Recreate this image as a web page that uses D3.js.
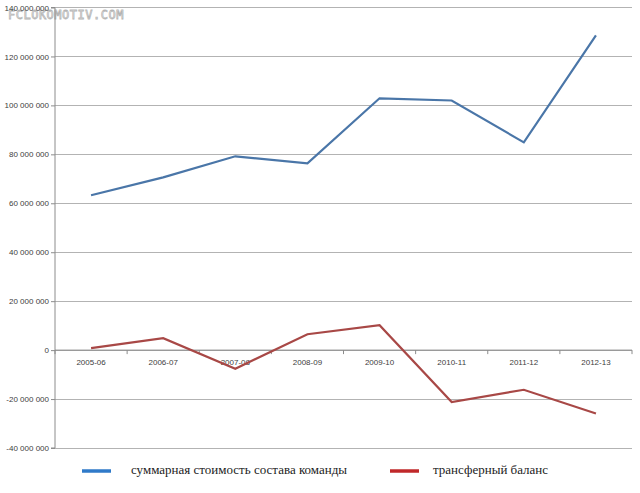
<!DOCTYPE html>
<html><head><meta charset="utf-8">
<script src="https://cdn.jsdelivr.net/npm/d3@7"></script>
<style>body{margin:0;background:#fff}svg{display:block}</style>
</head><body>
<svg id="c" width="640" height="493"></svg>
<script>
const seasons = ["2005-06","2006-07","2007-08","2008-09","2009-10","2010-11","2011-12","2012-13"];
const squadValue = [63300000,70600000,79200000,76300000,102900000,102000000,84900000,128600000];
const transferBalance = [800000,4900000,-7600000,6500000,10200000,-21200000,-16200000,-25900000];
const yTicks = [-40000000,-20000000,0,20000000,40000000,60000000,80000000,100000000,120000000,140000000];
const seriesNames = ["суммарная стоимость состава команды","трансферный баланс"];

const svg = d3.select("#c");
const L = 55, R = 632, T = 7.5, B = 448;
const x = d3.scaleBand().domain(seasons).range([L, R]);
const y = d3.scaleLinear().domain([-40000000, 140000000]).range([B, T]);
const fmt = v => d3.format(",")(v).replace(/,/g, " ").replace("−","-");

// gridlines
svg.append("g").selectAll("line").data(yTicks).join("line")
  .attr("x1", L).attr("x2", R).attr("y1", d => y(d)).attr("y2", d => y(d))
  .attr("stroke", "#b3b3b3").attr("stroke-width", 1).attr("shape-rendering","crispEdges");

// watermark (behind labels)
svg.append("text").attr("x", 8).attr("y", 19).text("FCLOKOMOTIV.COM")
  .attr("fill", "#fff").attr("stroke", "#b5b5b5").attr("stroke-width", 0.8)
  .style("font-family", "DejaVu Sans Mono, monospace").style("font-size", "12px").style("letter-spacing", "0.5px");

// y axis
const ya = svg.append("g").attr("transform", `translate(${L},0)`)
  .call(d3.axisLeft(y).tickValues(yTicks).tickSize(4).tickPadding(2).tickFormat(fmt));
ya.select(".domain").attr("stroke", "#8c8c8c").attr("d", `M-4,${T}H0V${B}H-4`);
ya.selectAll(".tick line").attr("stroke", "#8c8c8c");
ya.selectAll("text").attr("fill", "#404040").style("font-family", "Liberation Sans, Arial, sans-serif").style("font-size", "8px");

// x axis at zero
const xa = svg.append("g").attr("transform", `translate(0,${y(0)})`)
  .call(d3.axisBottom(x).tickSize(0).tickPadding(9));
xa.select(".domain").attr("stroke", "#8c8c8c").attr("d", `M${L},0H${R}`);
xa.selectAll("text").attr("fill", "#404040").style("font-family", "Liberation Sans, Arial, sans-serif").style("font-size", "8px");
svg.append("g").selectAll("line").data(d3.range(seasons.length + 1)).join("line")
  .attr("x1", i => L + i * x.bandwidth()).attr("x2", i => L + i * x.bandwidth())
  .attr("y1", y(0)).attr("y2", y(0) + 4).attr("stroke", "#8c8c8c");

const line = d3.line().x((d, i) => x(seasons[i]) + x.bandwidth() / 2).y(d => y(d));
svg.append("path").datum(squadValue).attr("d", line).attr("fill", "none")
  .attr("stroke", "#4a76a8").attr("stroke-width", 2.2);
svg.append("path").datum(transferBalance).attr("d", line).attr("fill", "none")
  .attr("stroke", "#a84846").attr("stroke-width", 2.2);

// legend
const leg = [{name: seriesNames[0], color: "#2f7ac9", x1: 82, tx: 131},
             {name: seriesNames[1], color: "#c0282a", x1: 390, tx: 433}];
const lg = svg.append("g");
leg.forEach(d => {
  lg.append("line").attr("x1", d.x1).attr("x2", d.x1 + 29).attr("y1", 471).attr("y2", 471)
    .attr("stroke", d.color).attr("stroke-width", 3.5);
  lg.append("text").attr("x", d.tx).attr("y", 474).text(d.name)
    .attr("fill", "#222").style("font-family", "Liberation Serif, Times New Roman, serif").style("font-size", "13px");
});
</script>
</body></html>
